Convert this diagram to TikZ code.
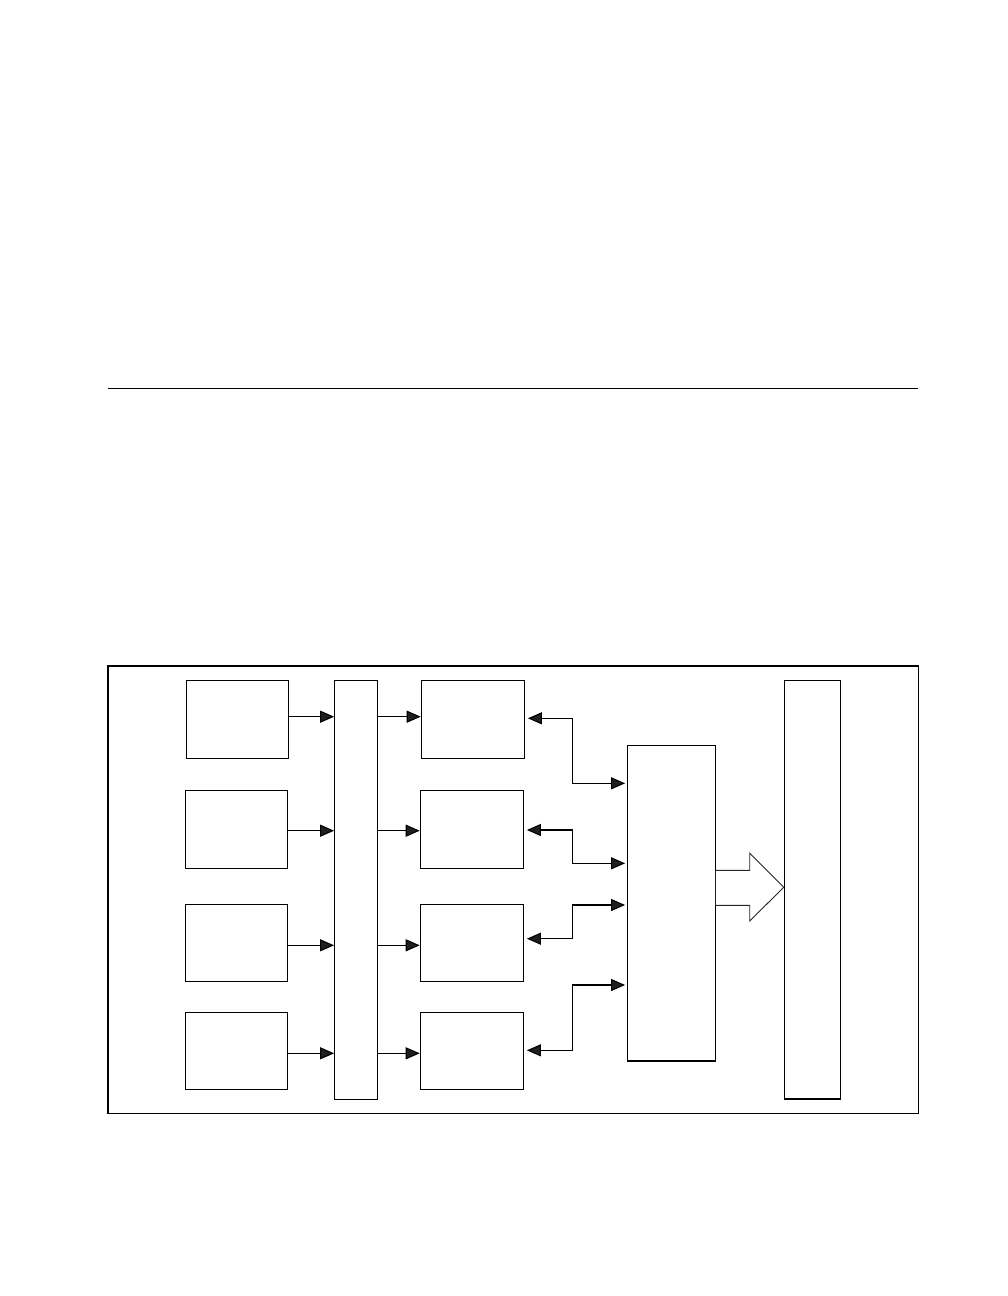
\documentclass[tikz,border=0pt]{standalone}
\usetikzlibrary{arrows.meta}
\begin{document}
\begin{tikzpicture}[x=1pt,y=-1pt,
  blk/.style={draw=black,line width=1.2pt,rectangle,inner sep=0pt,fill=white},
  conn/.style={draw=black,line width=1.1pt},
  tipR/.style={conn,-{Triangle[length=14pt,width=12pt,fill=black!88]}},
  tipLR/.style={conn,{Triangle[length=14pt,width=12pt,fill=black!88]}-{Triangle[length=14pt,width=12pt,fill=black!88]}},
  bigarrow/.style={draw=black!85,line width=0.9pt,fill=white}]
\useasboundingbox (0,0) rectangle (1008,1296);
% top rule
\coordinate (ruleL) at (108,388.3);
\coordinate (ruleR) at (918,388.3);
\draw[line width=1.2pt] (ruleL) -- (ruleR);
% frame
\node[blk,minimum width=810.3pt,minimum height=447.3pt,fill=none] (frame) at (513.15,889.65) {};
% left column
\node[blk,minimum width=102.4pt,minimum height=78pt] (a1) at (237.5,719.3) {};
\node[blk,minimum width=101.6pt,minimum height=78pt] (a2) at (236.5,829.3) {};
\node[blk,minimum width=102pt,minimum height=77pt] (a3) at (236.3,942.8) {};
\node[blk,minimum width=102pt,minimum height=77pt] (a4) at (236.3,1050.8) {};
% bus
\node[blk,minimum width=42.6pt,minimum height=419pt] (bus) at (356,889.8) {};
% middle column
\node[blk,minimum width=103pt,minimum height=78pt] (b1) at (472.8,719.3) {};
\node[blk,minimum width=103pt,minimum height=78pt] (b2) at (471.8,829.3) {};
\node[blk,minimum width=103pt,minimum height=77pt] (b3) at (471.8,942.8) {};
\node[blk,minimum width=103pt,minimum height=77pt] (b4) at (471.8,1050.8) {};
% controller
\node[blk,minimum width=87.6pt,minimum height=315.3pt] (c) at (671.5,903.35) {};
% right bar
\node[blk,minimum width=56pt,minimum height=418.7pt] (d) at (812.3,889.65) {};
% A -> bus
\draw[tipR] (a1.east |- 0,716.7) -- (bus.west |- 0,716.7);
\draw[tipR] (a2.east |- 0,830.7) -- (bus.west |- 0,830.7);
\draw[tipR] (a3.east |- 0,945.3) -- (bus.west |- 0,945.3);
\draw[tipR] (a4.east |- 0,1053.3) -- (bus.west |- 0,1053.3);
% bus -> B
\draw[tipR] (bus.east |- 0,716.7) -- (b1.west |- 0,716.7);
\draw[tipR] (bus.east |- 0,830.7) -- (b2.west |- 0,830.7);
\draw[tipR] (bus.east |- 0,945.3) -- (b3.west |- 0,945.3);
\draw[tipR] (bus.east |- 0,1053.3) -- (b4.west |- 0,1053.3);
% B <-> C
\draw[tipLR,shorten <=3pt,shorten >=2pt] (b1.east |- 0,718.3) -- (572.3,718.3) -- (572.3,783.3) -- (c.west |- 0,783.3);
\draw[tipLR,shorten <=3pt,shorten >=2pt] (b2.east |- 0,830) -- (572.3,830) -- (572.3,863.3) -- (c.west |- 0,863.3);
\draw[tipLR,shorten <=3pt,shorten >=2pt] (b3.east |- 0,938.7) -- (572.3,938.7) -- (572.3,905) -- (c.west |- 0,905);
\draw[tipLR,shorten <=3pt,shorten >=2pt] (b4.east |- 0,1050.3) -- (572.3,1050.3) -- (572.3,985) -- (c.west |- 0,985);
% big arrow C -> D
\draw[bigarrow] (c.east |- 0,870.3) -- (749.7,870.3) -- (749.7,853.3) -- (d.west |- 0,887.3) -- (749.7,921) -- (749.7,905.3) -- (c.east |- 0,905.3);
\end{tikzpicture}
\end{document}
